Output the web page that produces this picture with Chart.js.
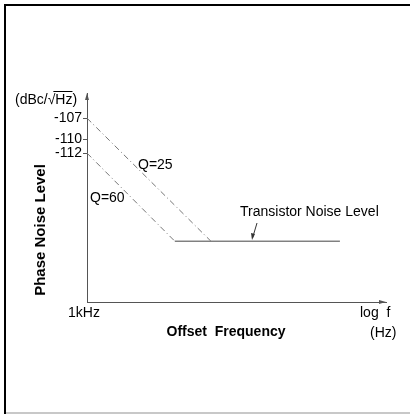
<!DOCTYPE html>
<html>
<head>
<meta charset="utf-8">
<script src="https://cdn.jsdelivr.net/npm/chart.js@4.4.1/dist/chart.umd.min.js"></script>
<style>
  html, body { margin: 0; padding: 0; background: #fff; }
  #wrap { position: relative; width: 410px; height: 414px; }
</style>
</head>
<body>
<div id="wrap"><canvas id="noiseChart"></canvas></div>
<script>
(function () {
  'use strict';

  // offset frequency (Hz) and phase noise (dBc/sqrt(Hz))
  var q25Freq = [1000, 17500];
  var q25Noise = [-107, -124.6];
  var q60Freq = [1000, 7600];
  var q60Noise = [-112, -124.6];
  var floorFreq = [7600, 345000];
  var floorNoise = [-124.6, -124.6];

  var yTickValues = [-107, -110, -112];
  var xTickValues = [1000];
  var xTickLabels = ['1kHz'];

  var FONT = '"Liberation Sans", Arial, sans-serif';
  var AXIS = '#555';

  function toPoints(xs, ys) {
    return xs.map(function (x, i) { return { x: x, y: ys[i] }; });
  }

  function arrowHead(ctx, x, y, dir) {
    ctx.beginPath();
    if (dir === 'up') {
      ctx.moveTo(x, y); ctx.lineTo(x - 2, y + 7); ctx.lineTo(x + 2, y + 7);
    } else if (dir === 'right') {
      ctx.moveTo(x, y); ctx.lineTo(x - 7, y - 2); ctx.lineTo(x - 7, y + 2);
    }
    ctx.closePath();
    ctx.fill();
  }

  var sketchPlugin = {
    id: 'sketch',
    beforeDraw: function (chart) {
      var ctx = chart.ctx;
      ctx.save();
      ctx.fillStyle = '#fff';
      ctx.fillRect(0, 0, chart.width, chart.height);
      ctx.fillStyle = '#000';
      ctx.fillRect(4, 4, chart.width - 4, 2);
      ctx.fillRect(4, 4, 2, chart.height - 4);
      ctx.fillStyle = '#c8c8c8';
      ctx.fillRect(6, chart.height - 2, chart.width - 6, 2);
      ctx.restore();
    },
    afterDraw: function (chart) {
      var ctx = chart.ctx;
      var area = chart.chartArea;
      ctx.save();
      ctx.fillStyle = AXIS;
      arrowHead(ctx, area.left, area.top, 'up');
      arrowHead(ctx, area.right, area.bottom, 'right');

      ctx.fillStyle = '#000';
      ctx.textBaseline = 'middle';
      ctx.font = '14px ' + FONT;
      ctx.textAlign = 'left';
      ctx.fillText('Q=25', 138, 165);
      ctx.fillText('Q=60', 90, 198);
      ctx.fillText('Transistor Noise Level', 240, 212);
      ctx.fillText('log  f', 360, 313);
      ctx.fillText('(Hz)', 370, 333);

      // unit label with a vinculum over Hz
      var head = '(dBc/\u221A';
      ctx.fillText(head + 'Hz)', 15, 100);
      var w1 = ctx.measureText(head).width;
      var w2 = ctx.measureText('Hz').width;
      ctx.strokeStyle = '#000';
      ctx.lineWidth = 1;
      ctx.beginPath();
      ctx.moveTo(15 + w1 - 2, 91.5);
      ctx.lineTo(15 + w1 + w2, 91.5);
      ctx.stroke();

      ctx.font = 'bold 14px ' + FONT;
      ctx.textAlign = 'center';
      ctx.fillText('Offset  Frequency', 226, 332);
      ctx.font = 'bold 15px ' + FONT;
      ctx.translate(41, 230);
      ctx.rotate(-Math.PI / 2);
      ctx.fillText('Phase Noise Level', 0, 0);
      ctx.restore();

      // pointer from the label to the floor line
      ctx.save();
      ctx.strokeStyle = '#333';
      ctx.fillStyle = '#333';
      ctx.lineWidth = 1;
      ctx.beginPath();
      ctx.moveTo(257, 223);
      ctx.lineTo(252.5, 238);
      ctx.stroke();
      ctx.beginPath();
      ctx.moveTo(252, 240);
      ctx.lineTo(251, 233);
      ctx.lineTo(255, 234);
      ctx.closePath();
      ctx.fill();
      ctx.restore();
    }
  };

  Chart.defaults.font.family = FONT;
  Chart.defaults.font.size = 14;
  Chart.defaults.color = '#000';

  new Chart(document.getElementById('noiseChart'), {
    type: 'line',
    data: {
      datasets: [{
        label: 'Q=25',
        data: toPoints(q25Freq, q25Noise),
        borderColor: '#777',
        borderWidth: 1,
        borderDash: [6, 3, 1, 3],
        pointRadius: 0
      }, {
        label: 'Q=60',
        data: toPoints(q60Freq, q60Noise),
        borderColor: '#777',
        borderWidth: 1,
        borderDash: [6, 3, 1, 3],
        pointRadius: 0
      }, {
        label: 'Transistor Noise Level',
        data: toPoints(floorFreq, floorNoise),
        borderColor: '#444',
        borderWidth: 1,
        pointRadius: 0
      }]
    },
    options: {
      responsive: true,
      maintainAspectRatio: false,
      animation: false,
      layout: { padding: { left: 0, top: 93, right: 24, bottom: 82 } },
      plugins: {
        legend: { display: false },
        tooltip: { enabled: false }
      },
      scales: {
        x: {
          type: 'logarithmic',
          min: 1000,
          max: 1000000,
          afterBuildTicks: function (scale) {
            scale.ticks = xTickValues.map(function (v) { return { value: v }; });
          },
          afterFit: function (scale) { scale.height = 30; },
          ticks: {
            padding: 3,
            labelOffset: -3,
            maxRotation: 0,
            autoSkip: false,
            callback: function (value) {
              var i = xTickValues.indexOf(value);
              return i >= 0 ? xTickLabels[i] : '';
            }
          },
          grid: { display: false, drawTicks: false, tickLength: 0 },
          border: { display: true, color: AXIS, width: 1 }
        },
        y: {
          min: -133.3,
          max: -103.4,
          afterBuildTicks: function (scale) {
            scale.ticks = yTickValues.map(function (v) { return { value: v }; });
          },
          afterFit: function (scale) { scale.width = 87; },
          ticks: {
            padding: 1,
            autoSkip: false,
            callback: function (value) { return String(value); }
          },
          grid: {
            drawOnChartArea: false,
            drawTicks: true,
            tickLength: 4,
            color: AXIS
          },
          border: { display: true, color: AXIS, width: 1 }
        }
      }
    },
    plugins: [sketchPlugin]
  });
}());
</script>
</body>
</html>
